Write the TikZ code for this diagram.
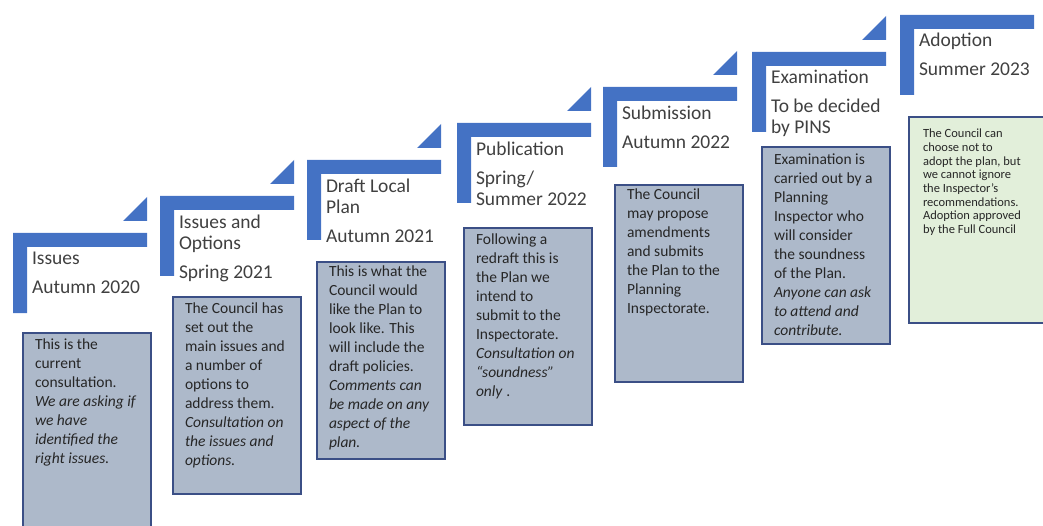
\documentclass[tikz,border=0pt]{standalone}
\usepackage{fontspec}
\setmainfont{Carlito}
\usepackage{xcolor}
\usetikzlibrary{positioning}

\definecolor{stepblue}{HTML}{4472C4}
\definecolor{boxfill}{HTML}{ADB9CA}
\definecolor{boxline}{HTML}{3B4F86}
\definecolor{adoptfill}{HTML}{E2EFDA}
\definecolor{headgray}{HTML}{404040}
\definecolor{desctext}{HTML}{262626}

\begin{document}
\begin{tikzpicture}[
    x=1pt, y=-1pt,
    every node/.style={inner sep=0pt, outer sep=0pt},
    heading/.style={anchor=north west, align=left, text=headgray, font=\fontsize{19.5}{21}\selectfont,
      execute at begin node={\rule{0pt}{16pt}}},
    descbox/.style={rectangle, draw=boxline, line width=1.5pt, fill=boxfill, anchor=north west, minimum width=128pt, minimum height=197pt},
    desc/.style={anchor=north west, align=left, text=desctext, font=\fontsize{15.5}{19}\selectfont,
      execute at begin node={\rule{0pt}{13pt}}},
  ]

  \path[use as bounding box] (0,0) rectangle (1043,526);
  \clip (0,0) rectangle (1043,526);

  % Steps
  \fill[stepblue] (13,233) -- ++(134,0) -- ++(0,14) -- ++(-120,0) -- ++(0,66) -- ++(-14,0) -- cycle;
  \fill[stepblue] (160,196) -- ++(134,0) -- ++(0,14) -- ++(-120,0) -- ++(0,66) -- ++(-14,0) -- cycle;
  \fill[stepblue] (307,160) -- ++(134,0) -- ++(0,14) -- ++(-120,0) -- ++(0,66) -- ++(-14,0) -- cycle;
  \fill[stepblue] (457,123) -- ++(134,0) -- ++(0,14) -- ++(-120,0) -- ++(0,66) -- ++(-14,0) -- cycle;
  \fill[stepblue] (603,87) -- ++(134,0) -- ++(0,14) -- ++(-120,0) -- ++(0,66) -- ++(-14,0) -- cycle;
  \fill[stepblue] (752,52) -- ++(134,0) -- ++(0,14) -- ++(-120,0) -- ++(0,66) -- ++(-14,0) -- cycle;
  \fill[stepblue] (900,15) -- ++(134,0) -- ++(0,14) -- ++(-120,0) -- ++(0,66) -- ++(-14,0) -- cycle;

  % Triangles
  \fill[stepblue] (123,221) -- ++(24,0) -- ++(0,-24) -- cycle;
  \fill[stepblue] (270,184) -- ++(24,0) -- ++(0,-24) -- cycle;
  \fill[stepblue] (417,148) -- ++(24,0) -- ++(0,-24) -- cycle;
  \fill[stepblue] (567,111) -- ++(24,0) -- ++(0,-24) -- cycle;
  \fill[stepblue] (713,75) -- ++(24,0) -- ++(0,-24) -- cycle;
  \fill[stepblue] (862,40) -- ++(24,0) -- ++(0,-24) -- cycle;

  % Headings
  \node[heading] (issues) at (32,252) {Issues\\[8pt]Autumn 2020};
  \node[heading] (options) at (179,215) {Issues and\\Options\\[8pt]Spring 2021};
  \node[heading] (draft) at (326,179) {Draft Local\\Plan\\[8pt]Autumn 2021};
  \node[heading] (publication) at (476,142) {Publication\\[8pt]Spring/\\Summer 2022};
  \node[heading] (submission) at (622,106) {Submission\\[8pt]Autumn 2022};
  \node[heading] (examination) at (771,70) {Examination\\[8pt]To be decided\\by PINS};
  \node[heading] (adoption) at (919,33) {Adoption\\[8pt]Summer 2023};

  % Description boxes
  \node[descbox] (issuesbox) at (23,333) {};
  \node[descbox] (optionsbox) at (173,297) {};
  \node[descbox] (draftbox) at (317,262) {};
  \node[descbox] (publicationbox) at (464,228) {};
  \node[descbox] (submissionbox) at (615,185) {};
  \node[descbox] (examinationbox) at (762,147) {};
  \node[descbox, fill=adoptfill, minimum width=145pt, minimum height=206pt] (adoptionbox) at (909,117) {};

  \node[desc] (issuestext) at ([xshift=12pt, yshift=-6pt]issuesbox.north west)
    {This is the\\current\\consultation.\\\textit{We are asking if}\\\textit{we have}\\\textit{identified the}\\\textit{right issues.}};
  \node[desc] (optionstext) at ([xshift=12pt, yshift=-6pt]optionsbox.north west)
    {The Council has\\set out the\\main issues and\\a number of\\options to\\address them.\\\textit{Consultation on}\\\textit{the issues and}\\\textit{options.}};
  \node[desc] (drafttext) at ([xshift=12pt, yshift=-4pt]draftbox.north west)
    {This is what the\\Council would\\like the Plan to\\look like. This\\will include the\\draft policies.\\\textit{Comments can}\\\textit{be made on any}\\\textit{aspect of the}\\\textit{plan.}};
  \node[desc] (publicationtext) at ([xshift=12pt, yshift=-6pt]publicationbox.north west)
    {Following a\\redraft this is\\the Plan we\\intend to\\submit to the\\Inspectorate.\\\textit{Consultation on}\\\textit{“soundness”}\\\textit{only} .};
  \node[desc] (submissiontext) at ([xshift=12pt, yshift=-4pt]submissionbox.north west)
    {The Council\\may propose\\amendments\\and submits\\the Plan to the\\Planning\\Inspectorate.};
  \node[desc] (examinationtext) at ([xshift=12pt, yshift=-7pt]examinationbox.north west)
    {Examination is\\carried out by a\\Planning\\Inspector who\\will consider\\the soundness\\of the Plan.\\\textit{Anyone can ask}\\\textit{to attend and}\\\textit{contribute.}};
  \node[desc, font=\fontsize{12.5}{13.7}\selectfont, execute at begin node={\rule{0pt}{11pt}}] (adoptiontext) at ([xshift=14pt, yshift=-12pt]adoptionbox.north west)
    {The Council can\\choose not to\\adopt the plan, but\\we cannot ignore\\the Inspector’s\\recommendations.\\Adoption approved\\by the Full Council};

\end{tikzpicture}
\end{document}
